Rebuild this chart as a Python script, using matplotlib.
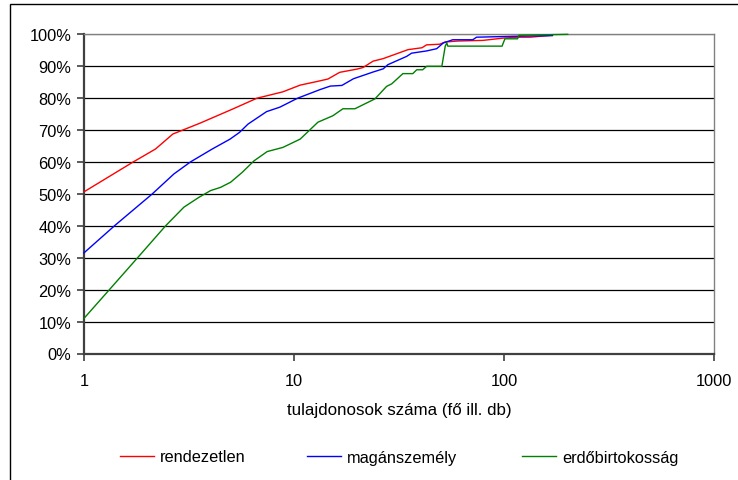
import matplotlib
matplotlib.use("Agg")
import matplotlib.pyplot as plt
from matplotlib.lines import Line2D
from matplotlib.patches import Rectangle
from matplotlib.ticker import FixedLocator, FuncFormatter, NullLocator

plt.rcParams['font.family'] = ['Liberation Sans', 'DejaVu Sans']

series_names = ["rendezetlen", "magánszemély", "erdőbirtokosság"]
series_colors = ["#FF0000", "#0000FF", "#008000"]

red_x = [1, 1.7, 2.19, 2.65, 3.57, 5.1, 6.66, 8.85, 10.7, 12.8, 14.5, 16.5, 19.9, 21.3,
         23.8, 26.6, 34.9, 40.7, 42.8, 49.4, 52.5, 60.2, 79.4, 98.6, 115, 133, 170]
red_y = [50.6, 59.8, 64.0, 68.7, 72.1, 76.5, 79.9, 81.9, 84.0, 85.1, 85.9, 88.0, 89.0, 89.5,
         91.5, 92.3, 95.1, 95.7, 96.6, 96.8, 97.5, 97.8, 98.0, 98.7, 99.0, 99.0, 99.6]

blue_x = [1, 1.41, 2.11, 2.68, 3.22, 4.08, 4.96, 5.5, 6.04, 7.4, 8.56, 10.4, 13.3, 14.9,
          16.9, 19.2, 23.8, 26.6, 28.0, 34.4, 36.3, 42.8, 47.8, 51.4, 57, 71, 74, 115, 170]
blue_y = [31.5, 40.2, 49.9, 56.2, 60.0, 64.0, 67.1, 69.2, 71.8, 75.7, 77.1, 79.9, 82.6, 83.7,
          83.9, 86.0, 88.1, 89.1, 90.4, 93.0, 94.0, 94.7, 95.4, 97.2, 98.2, 98.2, 99.0, 99.3, 99.5]

green_x = [1, 1.33, 1.79, 2.45, 2.99, 3.53, 4.01, 4.47, 4.99, 5.67, 6.45, 7.45, 8.85, 10.7,
           13.0, 15.3, 17.1, 19.5, 24.3, 27.6, 29.2, 33.0, 36.8, 38.4, 41.0, 42.8, 50.6,
           52.5, 53.4, 54.0, 97.9, 101, 116, 118, 201]
green_y = [11.0, 20.2, 29.8, 40.0, 45.8, 48.9, 51.0, 52.0, 53.6, 56.7, 60.3, 63.2, 64.5, 67.1,
           72.4, 74.4, 76.6, 76.6, 79.7, 83.6, 84.4, 87.6, 87.6, 88.8, 88.8, 89.9, 89.9,
           96.2, 97.2, 96.2, 96.2, 98.5, 98.5, 99.6, 99.9]

x_ticks = [1, 10, 100, 1000]
x_tick_labels = ["1", "10", "100", "1000"]
y_ticks = [0, 10, 20, 30, 40, 50, 60, 70, 80, 90, 100]
x_label = "tulajdonosok száma (fő ill. db)"

W, H = 738, 481
fig = plt.figure(figsize=(W / 100, H / 100), dpi=100)
ax = fig.add_axes([84 / W, 1 - 354.5 / H, (714 - 84) / W, (354.5 - 35) / H])

# gridlines
for yv in y_ticks:
    c = "#808080" if yv == 100 else "#000000"
    ax.axhline(yv, color=c, lw=0.9, zorder=1)

lines = []
for xs, ys, col, name in zip([red_x, blue_x, green_x], [red_y, blue_y, green_y],
                             series_colors, series_names):
    ln, = ax.plot(xs, ys, color=col, lw=1.0, label=name, zorder=3, clip_on=False)
    lines.append(ln)

ax.set_xscale("log")
ax.set_xlim(1, 1000)
ax.set_ylim(0, 100)
ax.xaxis.set_major_locator(FixedLocator(x_ticks))
ax.xaxis.set_minor_locator(NullLocator())
ax.set_xticklabels(x_tick_labels)
ax.yaxis.set_major_locator(FixedLocator(y_ticks))
ax.yaxis.set_major_formatter(FuncFormatter(lambda v, p: f"{int(round(v))}%"))

for s in ["top", "right"]:
    ax.spines[s].set_color("#808080")
    ax.spines[s].set_linewidth(1.0)
for s in ["left", "bottom"]:
    ax.spines[s].set_color("#404040")
    ax.spines[s].set_linewidth(1.6)

ax.tick_params(axis="y", direction="out", length=5, width=1.2, color="#404040",
               labelsize=11.8, pad=4)
ax.tick_params(axis="x", direction="out", length=5, width=1.2, color="#404040",
               labelsize=11.8, pad=9)
ax.set_xlabel(x_label, fontsize=12.2, labelpad=10)

# legend entries placed individually
leg_x = [120 / W, 307 / W, 522 / W]
for ln, lx in zip(lines, leg_x):
    h = Line2D([], [], color=ln.get_color(), lw=1.0)
    fig.legend(handles=[h], labels=[ln.get_label()], loc="center left",
               bbox_to_anchor=(lx, 1 - 458 / H), frameon=False, fontsize=11.8,
               handlelength=2.1, handletextpad=0.35, borderpad=0, borderaxespad=0)

# outer chart border
fig.add_artist(Rectangle((10 / W, -0.01), 1.02, 1 - 5 / H + 0.01,
                         transform=fig.transFigure, fill=False, edgecolor="black",
                         lw=1.0))

fig.savefig("out.png", dpi=100)
